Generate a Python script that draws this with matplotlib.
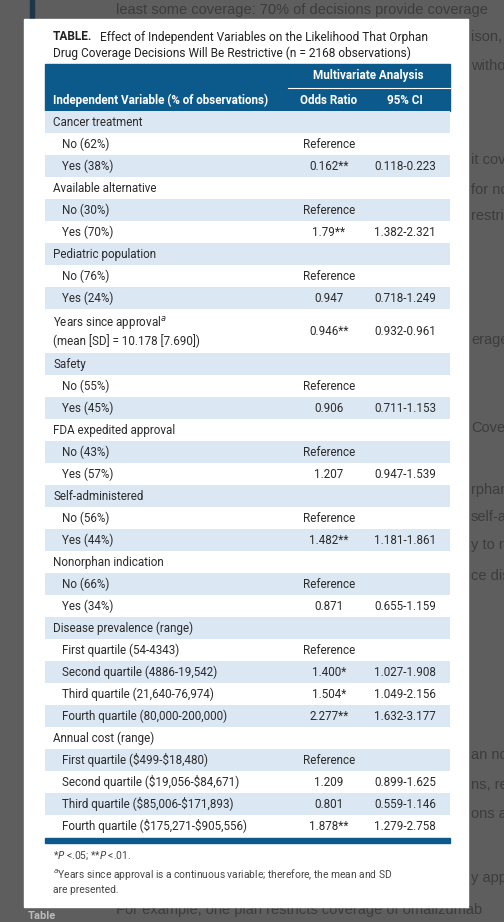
import matplotlib.pyplot as plt
from matplotlib.patches import Rectangle

plt.rcParams['font.family'] = ['Roboto', 'DejaVu Sans']

title_bold = "TABLE."
title_rest = "Effect of Independent Variables on the Likelihood That Orphan"
title_line2 = "Drug Coverage Decisions Will Be Restrictive (n = 2168 observations)"

# (label, odds ratio, 95% CI, kind) kind: 'cat' group, 'sub' level, 'two' two-line row
rows = [
    ("Cancer treatment", "", "", "cat"),
    ("No (62%)", "Reference", "", "sub"),
    ("Yes (38%)", "0.162**", "0.118-0.223", "sub"),
    ("Available alternative", "", "", "cat"),
    ("No (30%)", "Reference", "", "sub"),
    ("Yes (70%)", "1.79**", "1.382-2.321", "sub"),
    ("Pediatric population", "", "", "cat"),
    ("No (76%)", "Reference", "", "sub"),
    ("Yes (24%)", "0.947", "0.718-1.249", "sub"),
    ("Years since approval$^{a}$\n(mean [SD] = 10.178 [7.690])", "0.946**", "0.932-0.961", "two"),
    ("Safety", "", "", "cat"),
    ("No (55%)", "Reference", "", "sub"),
    ("Yes (45%)", "0.906", "0.711-1.153", "sub"),
    ("FDA expedited approval", "", "", "cat"),
    ("No (43%)", "Reference", "", "sub"),
    ("Yes (57%)", "1.207", "0.947-1.539", "sub"),
    ("Self-administered", "", "", "cat"),
    ("No (56%)", "Reference", "", "sub"),
    ("Yes (44%)", "1.482**", "1.181-1.861", "sub"),
    ("Nonorphan indication", "", "", "cat"),
    ("No (66%)", "Reference", "", "sub"),
    ("Yes (34%)", "0.871", "0.655-1.159", "sub"),
    ("Disease prevalence (range)", "", "", "cat"),
    ("First quartile (54-4343)", "Reference", "", "sub"),
    ("Second quartile (4886-19,542)", "1.400*", "1.027-1.908", "sub"),
    ("Third quartile (21,640-76,974)", "1.504*", "1.049-2.156", "sub"),
    ("Fourth quartile (80,000-200,000)", "2.277**", "1.632-3.177", "sub"),
    ("Annual cost (range)", "", "", "cat"),
    ("First quartile (\\$499-\\$18,480)", "Reference", "", "sub"),
    ("Second quartile (\\$19,056-\\$84,671)", "1.209", "0.899-1.625", "sub"),
    ("Third quartile (\\$85,006-\\$171,893)", "0.801", "0.559-1.146", "sub"),
    ("Fourth quartile (\\$175,271-\\$905,556)", "1.878**", "1.279-2.758", "sub"),
]

foot1 = "*$P$ <.05; **$P$ <.01."
foot2 = "$^{a}$Years since approval is a continuous variable; therefore, the mean and SD\nare presented."

bg_lines = [(116, 10, "least some coverage: 70% of decisions provide coverage"),
            (471, 37, "ison,"), (471, 66, "witho"), (471, 160, "it cov"),
            (471, 190, "for no"), (471, 216, "restri"), (471, 340, "erage"),
            (471, 428, "Cove"), (471, 490, "rphan"), (471, 517, "self-a"),
            (471, 545, "y to r"), (471, 576, "ce dis"), (471, 755, "an no"),
            (471, 785, "ns, re"), (471, 814, "ons ar"), (471, 878, "y appl"),
            (116, 910, "For example, one plan restricts coverage of omalizumab")]

blue = "#0c5a8c"
light = "#dce7f4"
dark_txt = "#2b2b2b"
fs = 8.4

fig = plt.figure(figsize=(5.04, 9.22), dpi=100)
fig.patch.set_facecolor("#5e5e5e")
ax = fig.add_axes([0, 0, 1, 1])
ax.set_xlim(0, 504)
ax.set_ylim(922, 0)
ax.axis("off")

# dimmed page behind the modal
for x, y, t in bg_lines:
    ax.text(x, y, t, fontsize=10.5, color="#3c3c3c", va="center", family="Liberation Sans", zorder=0)
ax.add_patch(Rectangle((30, 0), 4, 19, color="#1f3548", zorder=0))
ax.text(28, 916, "Table", fontsize=8, color="#bbbbbb", weight="bold", va="center")

# modal card
ax.add_patch(Rectangle((24, 19), 444, 888, color="white", zorder=1))

ax.text(53, 37, title_bold, fontsize=8.6, weight="bold", color="#222222", va="center", zorder=3)
ax.text(100, 37, title_rest, fontsize=8.6, color="#222222", va="center", zorder=3)
ax.text(53, 53, title_line2, fontsize=8.6, color="#222222", va="center", zorder=3)

x0, x1 = 45, 450
ax.add_patch(Rectangle((x0, 64), x1 - x0, 47, color=blue, zorder=2))
ax.plot([288, x1], [88, 88], color="white", lw=0.8, zorder=3)
ax.text(368, 76, "Multivariate Analysis", fontsize=fs, weight="bold", color="white", ha="center", va="center", zorder=3)
ax.text(53, 100, "Independent Variable (% of observations)", fontsize=fs, weight="bold", color="white", va="center", zorder=3)
ax.text(329, 100, "Odds Ratio", fontsize=fs, weight="bold", color="white", ha="center", va="center", zorder=3)
ax.text(405, 100, "95% CI", fontsize=fs, weight="bold", color="white", ha="center", va="center", zorder=3)

rh = 22
y = 111
for i, (lab, orr, ci, kind) in enumerate(rows):
    h = rh * 2 if kind == "two" else rh
    if i % 2 == 0:
        ax.add_patch(Rectangle((x0, y), x1 - x0, h, color=light, lw=0, zorder=2))
    cy = y + h / 2
    lx = 62 if kind == "sub" else 53
    ax.text(lx, cy, lab, fontsize=fs, color=dark_txt, va="center", linespacing=1.3, zorder=3)
    ax.text(329, cy, orr, fontsize=fs, color=dark_txt, ha="center", va="center", zorder=3)
    ax.text(405, cy, ci, fontsize=fs, color=dark_txt, ha="center", va="center", zorder=3)
    y += h

ax.add_patch(Rectangle((x0, y + 1), x1 - x0, 5, color=blue, zorder=2))

ax.text(53, 856, foot1, fontsize=7.4, color="#444444", va="center", zorder=3)
ax.text(53, 881, foot2, fontsize=7.4, color="#444444", va="center", linespacing=1.3, zorder=3)

fig.savefig("out.png", dpi=100, facecolor=fig.get_facecolor())
